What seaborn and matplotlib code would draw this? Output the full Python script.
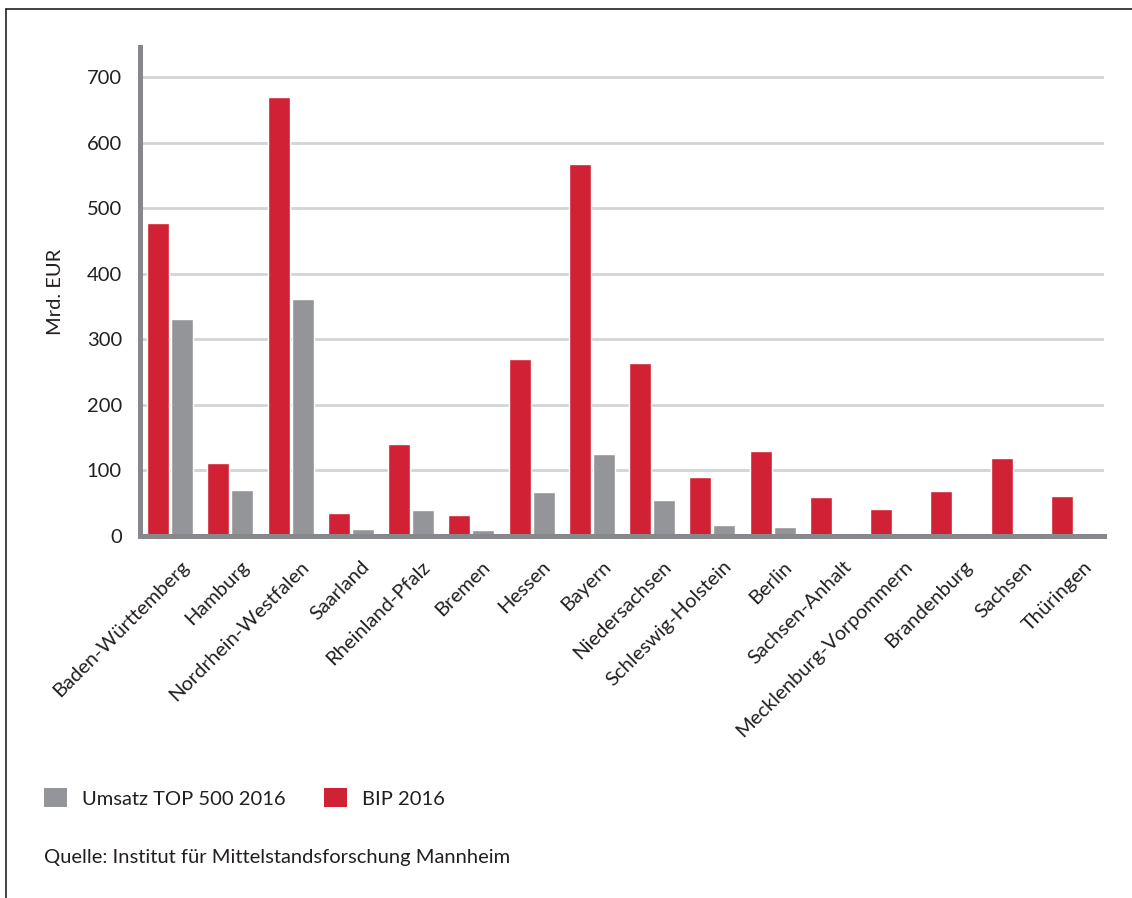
import matplotlib
matplotlib.use("Agg")
import matplotlib.pyplot as plt
import matplotlib.transforms as mtransforms
from matplotlib.patches import Patch
from matplotlib.lines import Line2D
import pandas as pd
import seaborn as sns

# data (Mrd. EUR)
states = ["Baden-Württemberg", "Hamburg", "Nordrhein-Westfalen", "Saarland",
          "Rheinland-Pfalz", "Bremen", "Hessen", "Bayern", "Niedersachsen",
          "Schleswig-Holstein", "Berlin", "Sachsen-Anhalt",
          "Mecklenburg-Vorpommern", "Brandenburg", "Sachsen", "Thüringen"]
bip_2016 = [477, 111, 669, 35, 140, 32, 270, 567, 264, 90, 130, 59, 41, 69, 119, 61]
umsatz_top500 = [331, 70, 361, 11, 40, 9, 67, 125, 55, 17, 14, 0, 0, 0, 0, 0]
yticks = [0, 100, 200, 300, 400, 500, 600, 700]

RED = "#d02234"
GREY = "#949598"
SPINE = "#87888b"
GRID = "#d3d4d6"
TEXT = "#231f20"

df = pd.DataFrame({
    "Land": states * 2,
    "Wert": bip_2016 + umsatz_top500,
    "Serie": ["BIP 2016"] * len(states) + ["Umsatz TOP 500 2016"] * len(states),
})

sns.set_theme(style="white")
plt.rcParams["font.family"] = ["Lato", "DejaVu Sans"]
plt.rcParams["text.color"] = TEXT

fig = plt.figure(figsize=(11.32, 8.98), dpi=100)
ax = fig.add_axes([140 / 1132, 362 / 898, (1104 - 140) / 1132, (851 - 362) / 898])

sns.barplot(data=df, x="Land", y="Wert", hue="Serie",
            hue_order=["BIP 2016", "Umsatz TOP 500 2016"],
            palette=[RED, GREY], width=0.8, gap=0.09,
            saturation=1, legend=False, ax=ax)

ax.set_ylim(0, 746)
ax.set_xlim(-0.5, len(states) - 0.5)
ax.set_yticks(yticks)
ax.set_yticklabels([str(t) for t in yticks], fontsize=14.5, color=TEXT)
ax.yaxis.grid(True, color=GRID, linewidth=2)
ax.set_axisbelow(True)
ax.tick_params(axis="both", length=0)
ax.tick_params(axis="y", pad=13)
ax.set_xlabel("")
ax.set_ylabel("Mrd. EUR", fontsize=14.5, color=TEXT, labelpad=16)

for side in ["top", "right"]:
    ax.spines[side].set_visible(False)
for side in ["left", "bottom"]:
    ax.spines[side].set_color(SPINE)
    ax.spines[side].set_linewidth(3.6)

ax.set_xticks(range(len(states)))
ax.set_xticklabels(states, rotation=45, ha="right", va="center",
                   rotation_mode="anchor", fontsize=14.5, color=TEXT)
offset = mtransforms.ScaledTranslation(16 / 100, -23 / 100, fig.dpi_scale_trans)
for lab in ax.get_xticklabels():
    lab.set_transform(lab.get_transform() + offset)

handles = [Patch(facecolor=GREY, edgecolor="none", label="Umsatz TOP 500 2016"),
           Patch(facecolor=RED, edgecolor="none", label="BIP 2016")]
fig.legend(handles=handles, loc="center left",
           bbox_to_anchor=(44 / 1132, 1 - 798 / 898), ncol=2, frameon=False,
           fontsize=14.5, handlelength=1.15, handleheight=1.05,
           handletextpad=0.75, columnspacing=1.9, borderpad=0, borderaxespad=0)

fig.text(44 / 1132, 1 - 858 / 898,
         "Quelle: Institut für Mittelstandsforschung Mannheim",
         fontsize=14.5, va="center", ha="left", color=TEXT)

# cropped frame: left and top edges
fig.add_artist(Line2D([6 / 1132, 6 / 1132], [0, 1 - 9 / 898],
                      transform=fig.transFigure, color="#222222", linewidth=1.2))
fig.add_artist(Line2D([6 / 1132, 1], [1 - 9 / 898, 1 - 9 / 898],
                      transform=fig.transFigure, color="#222222", linewidth=1.2))

fig.savefig("out.png", dpi=100, facecolor="white")
